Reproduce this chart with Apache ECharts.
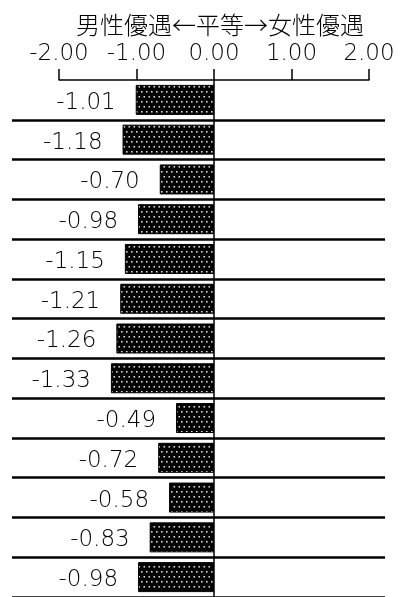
<!DOCTYPE html>
<html>
<head>
<meta charset="utf-8">
<script src="https://cdn.jsdelivr.net/npm/echarts@6/dist/echarts.min.js"></script>
<style>
  html, body { margin: 0; padding: 0; background: #fff; }
  #chart { width: 403px; height: 597px; }
</style>
</head>
<body>
<div id="chart"></div>
<script>
// Mean scores per item (negative = men favoured)
const items = ['1', '2', '3', '4', '5', '6', '7', '8', '9', '10', '11', '12', '13'];
const scores = [-1.01, -1.18, -0.70, -0.98, -1.15, -1.21, -1.26, -1.33, -0.49, -0.72, -0.58, -0.83, -0.98];
const axisTicks = [-2, -1, 0, 1, 2];
const titleText = '男性優遇←平等→女性優遇';

const CJK_FONT = '"Noto Sans CJK JP", sans-serif';
const NUM_FONT = '"DejaVu Sans", sans-serif';

// Dotted black fill for the bars
function dotPattern() {
  const c = document.createElement('canvas');
  c.width = 10; c.height = 10;
  const g = c.getContext('2d');
  g.fillStyle = '#000';
  g.fillRect(0, 0, 10, 10);
  g.fillStyle = '#d8d8d8';
  [[1, 1], [6, 1], [3.5, 6], [8.5, 6]].forEach(([x, y]) => {
    g.fillRect(x, y, 1.6, 1.6);
  });
  return c;
}

const chart = echarts.init(document.getElementById('chart'), null, { renderer: 'canvas' });

chart.setOption({
  animation: false,
  backgroundColor: '#fff',
  title: {
    text: titleText,
    left: 71,
    top: 8,
    textStyle: { fontFamily: CJK_FONT, fontSize: 24, fontWeight: 300, color: '#000' }
  },
  grid: [
    { left: 59, right: 34, top: 80, height: 520 },
    { left: 12, right: 18, top: 80, height: 520 }
  ],
  xAxis: [
    {
      gridIndex: 0,
      type: 'value',
      position: 'top',
      min: axisTicks[0],
      max: axisTicks[axisTicks.length - 1],
      interval: 1,
      axisLine: { show: true, lineStyle: { color: '#000', width: 1.5 } },
      axisTick: { show: true, length: 11, lineStyle: { color: '#000', width: 1.5 } },
      splitLine: { show: false },
      axisLabel: {
        margin: 14,
        fontFamily: NUM_FONT,
        fontSize: 23,
        fontWeight: 200,
        color: '#000',
        formatter: v => v.toFixed(2)
      }
    },
    {
      gridIndex: 1,
      type: 'value',
      show: false
    }
  ],
  yAxis: [
    {
      gridIndex: 0,
      type: 'category',
      data: items,
      inverse: true,
      axisLine: { show: true, onZero: true, lineStyle: { color: '#000', width: 1.5 } },
      axisTick: { show: false },
      axisLabel: { show: false },
      splitLine: { show: false }
    },
    {
      gridIndex: 1,
      type: 'category',
      data: items,
      inverse: true,
      axisLine: { show: false },
      axisTick: { show: false },
      axisLabel: { show: false },
      splitLine: {
        show: true,
        interval: (i) => i !== 0,
        lineStyle: { color: '#000', width: 2.5 }
      }
    }
  ],
  series: [
    {
      type: 'bar',
      xAxisIndex: 0,
      yAxisIndex: 0,
      data: scores,
      barWidth: 30,
      itemStyle: {
        color: { image: dotPattern(), repeat: 'repeat' },
        borderColor: '#000',
        borderWidth: 1
      },
      label: {
        show: true,
        position: 'left',
        distance: 20,
        offset: [0, 3],
        fontFamily: NUM_FONT,
        fontSize: 23,
        fontWeight: 200,
        color: '#000',
        formatter: p => p.value.toFixed(2)
      }
    }
  ]
});
</script>
</body>
</html>
